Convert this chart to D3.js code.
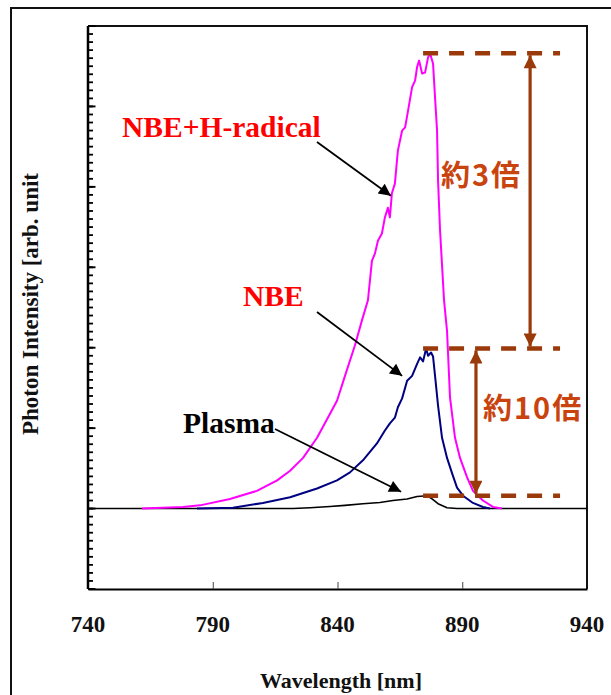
<!DOCTYPE html>
<html>
<head>
<meta charset="utf-8">
<script src="https://cdn.jsdelivr.net/npm/d3@7"></script>
<style>
  body { margin: 0; background: #fff; }
  text { font-family: "Liberation Serif", "Times New Roman", serif; font-weight: bold; }
</style>
</head>
<body>
<svg id="chart" width="611" height="695"></svg>
<script>
// 軸
const xTickLabels = [740, 790, 840, 890, 940];
const xTickMarks = [790, 840, 890];
const yMajor = d3.range(-1, 7);
const yMinor = d3.range(-10, 61).map(i => i / 10);

// スペクトル [wavelength nm, intensity arb.]
const nbeH = [
  [761.6, 0], [778.1, 0.02], [784.9, 0.04], [796.9, 0.12], [807.7, 0.22], [815.8, 0.35],
  [821.0, 0.47], [826.2, 0.63], [831.8, 0.88], [837.0, 1.18], [839.8, 1.34], [843.0, 1.65],
  [847.0, 2.03], [849.8, 2.34], [852.2, 2.59], [853.8, 3.08], [855.0, 3.17], [856.2, 3.33],
  [857.8, 3.42], [859.0, 3.62], [860.2, 3.74], [861.0, 3.62], [861.8, 3.92], [863.0, 4.04],
  [864.2, 4.45], [865.9, 4.70], [867.1, 4.74], [868.3, 4.95], [869.9, 5.24], [871.1, 5.32],
  [871.9, 5.49], [872.7, 5.57], [873.9, 5.41], [875.1, 5.42], [876.3, 5.61], [877.1, 5.66],
  [878.3, 5.53], [879.1, 5.11], [879.9, 4.70], [880.3, 4.08], [881.1, 3.46], [882.7, 2.59],
  [883.9, 2.21], [885.1, 1.38], [887.1, 0.88], [889.1, 0.63], [891.9, 0.39], [894.3, 0.22],
  [898.3, 0.10], [902.3, 0.02], [905.9, 0]
];
const nbe = [
  [783.7, 0], [798.1, 0.01], [810.1, 0.07], [821.0, 0.14], [831.8, 0.25], [839.8, 0.35],
  [845.0, 0.45], [850.2, 0.60], [855.8, 0.81], [859.0, 0.97], [861.0, 1.06], [863.0, 1.13],
  [864.2, 1.26], [865.9, 1.37], [867.9, 1.59], [869.9, 1.65], [871.9, 1.80], [873.1, 1.88],
  [874.3, 1.83], [875.5, 1.99], [876.3, 1.90], [877.5, 1.94], [878.3, 1.89], [879.1, 1.65],
  [880.3, 1.28], [881.9, 0.88], [883.9, 0.63], [885.9, 0.44], [887.9, 0.26], [890.3, 0.16],
  [894.3, 0.07], [898.3, 0.02], [901.1, 0]
];
const plasma = [
  [740, 0], [822.2, 0], [829.0, 0.01], [837.0, 0.025], [843.0, 0.04], [850.2, 0.06],
  [857.0, 0.075], [862.2, 0.10], [867.9, 0.12], [871.9, 0.15], [875.9, 0.16], [877.9, 0.12],
  [880.3, 0.06], [883.9, 0.01], [887.9, 0], [940, 0]
];

const svg = d3.select("#chart");
const x = d3.scaleLinear().domain([740, 940]).range([88, 587]);
const y = d3.scaleLinear().domain([-1, 6]).range([589, 26]);

// 外枠
svg.append("rect").attr("x", 11).attr("y", 8).attr("width", 640).attr("height", 720)
  .attr("fill", "none").attr("stroke", "#111").attr("stroke-width", 2);

// プロット枠（上・右）
svg.append("path")
  .attr("d", `M${x(740)},${y(6)}H${x(940)}V${y(-1)}`)
  .attr("fill", "none").attr("stroke", "#111").attr("stroke-width", 2);

// y軸 小目盛・大目盛（内向き）
const yTicks = svg.append("g").attr("class", "y-ticks");
yTicks.selectAll("line.minor").data(yMinor).enter().append("line")
  .attr("class", "minor")
  .attr("x1", x(740)).attr("x2", x(740) + 5)
  .attr("y1", d => y(d)).attr("y2", d => y(d))
  .attr("stroke", "#000").attr("stroke-width", 1.8);
yTicks.selectAll("line.major").data(yMajor).enter().append("line")
  .attr("class", "major")
  .attr("x1", x(740)).attr("x2", x(740) + 7.5)
  .attr("y1", d => y(d)).attr("y2", d => y(d))
  .attr("stroke", "#000").attr("stroke-width", 1.9);
yTicks.append("line")
  .attr("x1", x(740)).attr("x2", x(740)).attr("y1", y(6)).attr("y2", y(-1))
  .attr("stroke", "#000").attr("stroke-width", 2.5);

// x軸
const xAxisG = svg.append("g").attr("transform", `translate(0,${y(-1)})`);
xAxisG.call(d3.axisTop(x).tickValues(xTickMarks).tickSize(7).tickFormat("").tickSizeOuter(0));
xAxisG.selectAll(".domain").attr("stroke", "#000").attr("stroke-width", 2);
xAxisG.selectAll(".tick line").attr("stroke", "#444").attr("stroke-width", 1);

svg.append("g").selectAll("text").data(xTickLabels).enter().append("text")
  .attr("x", d => x(d)).attr("y", 632)
  .attr("text-anchor", "middle").attr("font-size", 23).attr("fill", "#111")
  .text(d => d);

svg.append("text").attr("x", 341).attr("y", 688).attr("text-anchor", "middle")
  .attr("font-size", 22).attr("fill", "#111").text("Wavelength [nm]");

// y軸ラベル（上端が切れている）
svg.append("clipPath").attr("id", "ylabclip").append("rect")
  .attr("x", 0).attr("y", 173).attr("width", 80).attr("height", 400);
svg.append("g").attr("clip-path", "url(#ylabclip)")
  .append("text").attr("transform", "translate(38,435) rotate(-90)")
  .attr("font-size", 23).attr("fill", "#111").text("Photon Intensity [arb. unit]");

// スペクトル
const line = d3.line().x(d => x(d[0])).y(d => y(d[1]));
const series = [
  { data: plasma, color: "#000000", width: 1.6 },
  { data: nbe, color: "#000080", width: 2 },
  { data: nbeH, color: "#ff00ff", width: 2 }
];
svg.append("g").selectAll("path").data(series).enter().append("path")
  .attr("d", d => line(d.data))
  .attr("fill", "none").attr("stroke", d => d.color).attr("stroke-width", d => d.width)
  .attr("stroke-linejoin", "round");

// 矢印マーカー
const defs = svg.append("defs");
defs.append("marker").attr("id", "blackHead")
  .attr("markerUnits", "userSpaceOnUse").attr("viewBox", "0 -5 10 10")
  .attr("refX", 10).attr("refY", 0).attr("markerWidth", 15).attr("markerHeight", 12)
  .attr("orient", "auto")
  .append("path").attr("d", "M0,-5L10,0L0,5Z").attr("fill", "#000");
defs.append("marker").attr("id", "brownHead")
  .attr("markerUnits", "userSpaceOnUse").attr("viewBox", "0 -5 10 10")
  .attr("refX", 10).attr("refY", 0).attr("markerWidth", 17).attr("markerHeight", 13)
  .attr("orient", "auto-start-reverse")
  .append("path").attr("d", "M0,-5L10,0L0,5Z").attr("fill", "#9a3a0a");

// ラベルと矢印
const labels = [
  { text: "NBE+H-radical", color: "#ff0000", x: 122, y: 137, from: [317, 142], to: [861.4, 3.89] },
  { text: "NBE", color: "#ff0000", x: 243, y: 306, from: [317, 312], to: [865.9, 1.65] },
  { text: "Plasma", color: "#000000", x: 183, y: 433, from: [275, 429], to: [865.5, 0.21] }
];
svg.append("g").selectAll("line").data(labels).enter().append("line")
  .attr("x1", d => d.from[0]).attr("y1", d => d.from[1])
  .attr("x2", d => x(d.to[0])).attr("y2", d => y(d.to[1]))
  .attr("stroke", "#000").attr("stroke-width", 1.8).attr("marker-end", "url(#blackHead)");
svg.append("g").selectAll("text").data(labels).enter().append("text")
  .attr("x", d => d.x).attr("y", d => d.y)
  .attr("font-size", 29.5).attr("fill", d => d.color).text(d => d.text);

// 倍率の注記
const peaks = [nbeH, nbe, plasma].map(s => d3.max(s, d => d[1]));
const brown = "#9a3a0a";
svg.append("g").selectAll("line").data(peaks).enter().append("line")
  .attr("x1", x(874.3)).attr("x2", x(929.2))
  .attr("y1", d => y(d)).attr("y2", d => y(d))
  .attr("stroke", brown).attr("stroke-width", 4.5).attr("stroke-dasharray", "15 11");

const ratios = [
  { top: peaks[0], bottom: peaks[1], ax: 917.2, text: "約3倍", tx: -8, ty: 186, anchor: "end" },
  { top: peaks[1], bottom: peaks[2], ax: 895.5, text: "約10倍", tx: 7, ty: 419, anchor: "start" }
];
svg.append("g").selectAll("line").data(ratios).enter().append("line")
  .attr("x1", d => x(d.ax)).attr("x2", d => x(d.ax))
  .attr("y1", d => y(d.top) + 2).attr("y2", d => y(d.bottom) - 2)
  .attr("stroke", brown).attr("stroke-width", 3.2)
  .attr("marker-start", "url(#brownHead)").attr("marker-end", "url(#brownHead)");
svg.append("g").selectAll("text").data(ratios).enter().append("text")
  .attr("x", d => x(d.ax) + d.tx).attr("y", d => d.ty)
  .attr("text-anchor", d => d.anchor)
  .style("font-family", '"Noto Sans CJK JP", sans-serif')
  .style("letter-spacing", "2px")
  .attr("font-size", 29).attr("fill", "#c9430f").text(d => d.text);
</script>
</body>
</html>
